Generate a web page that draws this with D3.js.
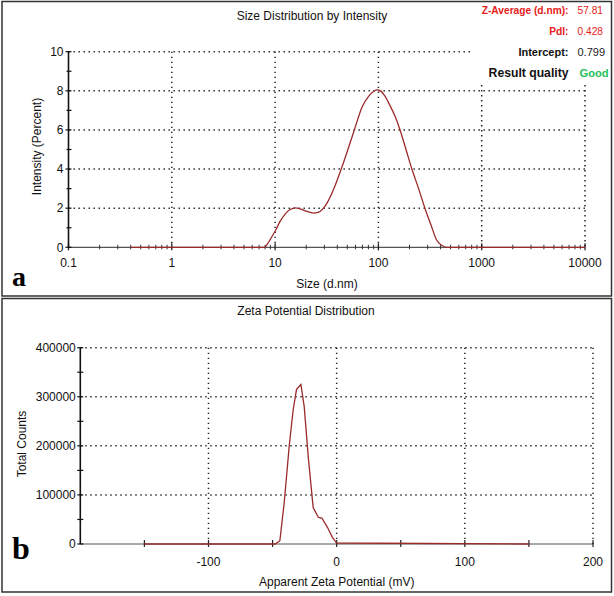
<!DOCTYPE html>
<html><head><meta charset="utf-8">
<script src="https://cdn.jsdelivr.net/npm/d3@7"></script>
<style>
html,body{margin:0;padding:0;background:#fff;}
text{font-family:"Liberation Sans",Arial,sans-serif;}
text.plabel{font-family:"Liberation Serif","Times New Roman",serif;}
</style></head>
<body>
<svg id="c" width="614" height="596"></svg>
<script>
// ---- Panel a data: Size Distribution by Intensity ----
const sizeNm = [0.4, 7.9, 8.5, 9.2, 10.3, 11.1, 12.5, 14, 15.6, 17.5, 20, 23.4, 26, 29.3, 32.5, 36.6, 45.7, 58.5, 69.7, 80, 90, 97, 105, 115, 128, 145, 162, 185, 211, 245, 282, 325, 366, 410, 457, 10000];
const intensityPct = [0, 0, 0.2, 0.5, 0.95, 1.3, 1.7, 1.93, 2.02, 1.97, 1.85, 1.75, 1.78, 1.99, 2.35, 2.93, 4.3, 6.0, 7.19, 7.7, 7.98, 8.05, 8.0, 7.75, 7.3, 6.7, 6.0, 5.0, 4.0, 3.0, 2.0, 1.1, 0.37, 0.1, 0, 0];
const sizeTicks = [0.1, 1, 10, 100, 1000, 10000];
const sizeTickLabels = ["0.1", "1", "10", "100", "1000", "10000"];
const intensityTicks = [0, 2, 4, 6, 8, 10];
const infoLabels = ["Z-Average (d.nm):", "PdI:", "Intercept:", "Result quality"];
const infoValues = ["57.81", "0.428", "0.799", "Good"];

// ---- Panel b data: Zeta Potential Distribution ----
const zetaMv = [-150, -48, -44.3, -40.9, -37, -33.9, -31.3, -27.9, -25.3, -22, -18.3, -14.2, -11.5, -7.2, -3.3, 0, 150];
const totalCounts = [0, 0, 6700, 84600, 200000, 274000, 315000, 325000, 280000, 173000, 74000, 54000, 53000, 34000, 13500, 2000, 0];
const zetaTicks = [-100, 0, 100, 200];
const countTicks = [0, 100000, 200000, 300000, 400000];

const svg = d3.select("#c");
const lineColor = "#9b2a2a";
const dotted = "1.4 3.6";

// panel frames
svg.append("rect").attr("x",2).attr("y",1.5).attr("width",609.5).attr("height",294.5)
  .attr("fill","none").attr("stroke","#333").attr("stroke-width",1.5);
svg.append("rect").attr("x",2).attr("y",298.5).attr("width",609.5).attr("height",293.5)
  .attr("fill","none").attr("stroke","#333").attr("stroke-width",1.5);

// ================= Panel a =================
const xa = d3.scaleLog().domain([0.1, 10000]).range([68.5, 585]);
const ya = d3.scaleLinear().domain([0, 10]).range([247.3, 51.7]);
const ga = svg.append("g");

ga.append("text").attr("x",312).attr("y",19.5).attr("text-anchor","middle")
  .attr("font-size",12).attr("fill","#111").text("Size Distribution by Intensity");

// grid horizontal
intensityTicks.filter(d=>d>0).forEach(d=>{
  ga.append("line").attr("x1",xa(0.1)).attr("x2", d===10 ? 472 : xa(10000))
    .attr("y1",ya(d)).attr("y2",ya(d)).attr("stroke","#222").attr("stroke-width",1.5)
    .attr("stroke-dasharray",dotted);
});
// grid vertical
sizeTicks.filter(d=>d>0.1).forEach(d=>{
  ga.append("line").attr("x1",xa(d)).attr("x2",xa(d))
    .attr("y1", d>=1000 ? 85 : ya(10)).attr("y2",ya(0)).attr("stroke","#222").attr("stroke-width",1.5)
    .attr("stroke-dasharray",dotted);
});

// x axis
ga.append("line").attr("x1",xa(0.1)).attr("x2",xa(10000)).attr("y1",ya(0)).attr("y2",ya(0))
  .attr("stroke","#555").attr("stroke-width",1.2);
const minorA = [];
for (let dec=0.1; dec<10000; dec*=10) for (let k=2;k<=9;k++) minorA.push(dec*k);
ga.selectAll(".mna").data(minorA).join("line")
  .attr("x1",d=>xa(d)).attr("x2",d=>xa(d)).attr("y1",ya(0)-2.5).attr("y2",ya(0)+2)
  .attr("stroke","#333").attr("stroke-width",1);
ga.selectAll(".mja").data(sizeTicks).join("line")
  .attr("x1",d=>xa(d)).attr("x2",d=>xa(d)).attr("y1",ya(0)-4).attr("y2",ya(0)+3)
  .attr("stroke","#222").attr("stroke-width",1.3);
ga.selectAll(".xla").data(sizeTicks).join("text")
  .attr("x",d=>xa(d)).attr("y",266.5).attr("text-anchor","middle").attr("font-size",12)
  .attr("fill","#111").text((d,i)=>sizeTickLabels[i]);

// y axis
ga.append("line").attr("x1",xa(0.1)).attr("x2",xa(0.1)).attr("y1",ya(10)).attr("y2",ya(0))
  .attr("stroke","#111").attr("stroke-width",1.6);
ga.selectAll(".ymn").data([1,3,5,7,9]).join("line")
  .attr("x1",xa(0.1)-2).attr("x2",xa(0.1)+3).attr("y1",d=>ya(d)).attr("y2",d=>ya(d))
  .attr("stroke","#111").attr("stroke-width",1.2);
ga.selectAll(".ymj").data(intensityTicks).join("line")
  .attr("x1",xa(0.1)-3).attr("x2",xa(0.1)+3).attr("y1",d=>ya(d)).attr("y2",d=>ya(d))
  .attr("stroke","#111").attr("stroke-width",1.2);
ga.selectAll(".yla").data(intensityTicks).join("text")
  .attr("x",63.5).attr("y",d=>ya(d)+4.3).attr("text-anchor","end").attr("font-size",12)
  .attr("fill","#111").text(d=>d);

ga.append("text").attr("transform","translate(40.5,146.5) rotate(-90)")
  .attr("text-anchor","middle").attr("font-size",12).attr("fill","#111").text("Intensity (Percent)");
ga.append("text").attr("x",327).attr("y",287.5).attr("text-anchor","middle")
  .attr("font-size",12).attr("fill","#111").text("Size (d.nm)");

// curve a
const lineA = d3.line().x(d=>xa(d[0])).y(d=>ya(d[1])).curve(d3.curveMonotoneX);
ga.append("path").datum(sizeNm.map((s,i)=>[s,intensityPct[i]]))
  .attr("d",lineA).attr("fill","none").attr("stroke",lineColor).attr("stroke-width",1.3);

// info block
const infoY = [14, 35, 56, 77];
const infoColors = ["#e62020","#e62020","#111","#111"];
const infoSizes = [10.2, 10.2, 11, 12.2];
const valColors = ["#e62020","#e62020","#222","#1fbf5a"];
const valSizes = [10.2, 10.2, 11, 11.2];
infoLabels.forEach((t,i)=>{
  ga.append("text").attr("x",568.5).attr("y",infoY[i]).attr("text-anchor","end")
    .attr("font-weight","bold").attr("font-size",infoSizes[i]).attr("fill",infoColors[i]).text(t);
  ga.append("text").attr("x",i===3?579.5:577.5).attr("y",infoY[i]).attr("text-anchor","start")
    .attr("font-weight",i===3?"bold":"normal").attr("font-size",valSizes[i]).attr("fill",valColors[i]).text(infoValues[i]);
});

ga.append("text").attr("class","plabel").attr("x",12).attr("y",286)
  .attr("font-weight","bold").attr("font-size",28).attr("fill","#000").text("a");

// ================= Panel b =================
const xb = d3.scaleLinear().domain([-200, 200]).range([80.3, 593]);
const yb = d3.scaleLinear().domain([0, 400000]).range([544, 347.7]);
const gb = svg.append("g");

gb.append("text").attr("x",306).attr("y",314.5).attr("text-anchor","middle")
  .attr("font-size",12).attr("fill","#111").text("Zeta Potential Distribution");

countTicks.filter(d=>d>0).forEach(d=>{
  gb.append("line").attr("x1",xb(-200)).attr("x2",xb(200)).attr("y1",yb(d)).attr("y2",yb(d))
    .attr("stroke","#222").attr("stroke-width",1.5).attr("stroke-dasharray",dotted);
});
zetaTicks.forEach(d=>{
  gb.append("line").attr("x1",xb(d)).attr("x2",xb(d)).attr("y1",yb(400000)).attr("y2",yb(0))
    .attr("stroke","#222").attr("stroke-width",1.5).attr("stroke-dasharray",dotted);
});

gb.append("line").attr("x1",xb(-200)).attr("x2",xb(200)).attr("y1",yb(0)).attr("y2",yb(0))
  .attr("stroke","#555").attr("stroke-width",1.2);
gb.selectAll(".xtb").data([-150,-100,-50,0,50,100,150,200]).join("line")
  .attr("x1",d=>xb(d)).attr("x2",d=>xb(d)).attr("y1",yb(0)-4).attr("y2",yb(0)+3)
  .attr("stroke","#222").attr("stroke-width",1.2);
gb.selectAll(".xlb").data(zetaTicks).join("text")
  .attr("x",d=>xb(d)).attr("y",565.5).attr("text-anchor","middle").attr("font-size",12)
  .attr("fill","#111").text(d=>d);

gb.append("line").attr("x1",xb(-200)).attr("x2",xb(-200)).attr("y1",yb(400000)).attr("y2",yb(0))
  .attr("stroke","#111").attr("stroke-width",1.6);
gb.selectAll(".ymb").data([0,50000,100000,150000,200000,250000,300000,350000,400000]).join("line")
  .attr("x1",xb(-200)-3).attr("x2",xb(-200)+3).attr("y1",d=>yb(d)).attr("y2",d=>yb(d))
  .attr("stroke","#111").attr("stroke-width",1.2);
gb.selectAll(".ylb").data(countTicks).join("text")
  .attr("x",75.8).attr("y",d=>yb(d)+4.3).attr("text-anchor","end").attr("font-size",12)
  .attr("fill","#111").text(d=>d);

gb.append("text").attr("transform","translate(26,444) rotate(-90)")
  .attr("text-anchor","middle").attr("font-size",12).attr("fill","#111").text("Total Counts");
gb.append("text").attr("x",336.7).attr("y",585.5).attr("text-anchor","middle")
  .attr("font-size",12).attr("fill","#111").text("Apparent Zeta Potential (mV)");

const lineB = d3.line().x(d=>xb(d[0])).y(d=>yb(d[1]));
gb.append("path").datum(zetaMv.map((z,i)=>[z,totalCounts[i]]))
  .attr("d",lineB).attr("fill","none").attr("stroke",lineColor).attr("stroke-width",1.3);

gb.append("text").attr("class","plabel").attr("x",12).attr("y",559)
  .attr("font-weight","bold").attr("font-size",32).attr("fill","#000").text("b");
</script>
</body></html>
